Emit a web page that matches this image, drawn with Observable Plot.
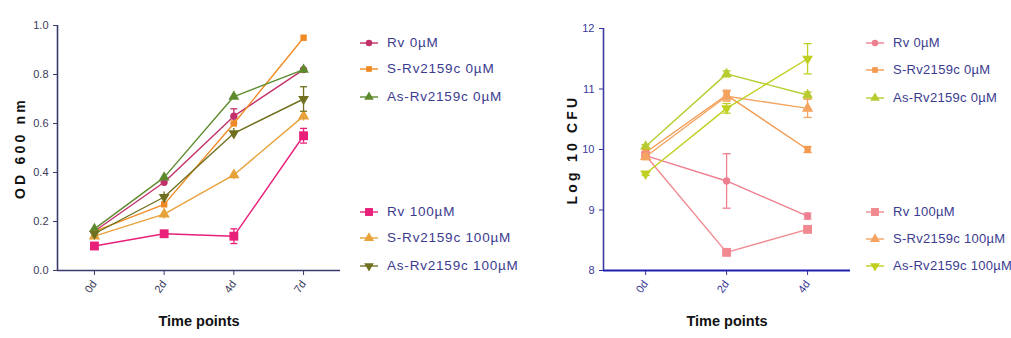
<!DOCTYPE html>
<html><head><meta charset="utf-8">
<script src="https://cdn.jsdelivr.net/npm/d3@7"></script>
<script src="https://cdn.jsdelivr.net/npm/@observablehq/plot@0.6"></script>
<style>
body{margin:0;background:#fff;font-family:"Liberation Sans",Arial,sans-serif;}
#wrap{position:relative;width:1011px;height:338px;overflow:hidden;background:#fff}
.panel{position:absolute;top:0}
.leg{position:absolute;font-size:13.5px;letter-spacing:0.8px;color:#3b3b8f;white-space:nowrap;line-height:1}
.leg.r{font-size:13px;letter-spacing:0.3px}
.leg svg{position:absolute;left:0;top:-7px}
.leg span{position:absolute;top:-7px}
</style></head><body><div id="wrap"></div>
<script>
// ---------- Data: left panel (OD 600 nm) ----------
const days1 = ["0d","2d","4d","7d"];
const names = ["Rv 0µM","S-Rv2159c 0µM","As-Rv2159c 0µM","Rv 100µM","S-Rv2159c 100µM","As-Rv2159c 100µM"];
const odRv0    = [0.16, 0.36, 0.63, 0.82];
const odS0     = [0.16, 0.27, 0.60, 0.95];
const odAs0    = [0.17, 0.38, 0.71, 0.82];
const odRv100  = [0.10, 0.15, 0.14, 0.55];
const odS100   = [0.14, 0.23, 0.39, 0.63];
const odAs100  = [0.15, 0.30, 0.56, 0.70];
const odErrRv0   = [0.01, 0.01, 0.03, 0.01];
const odErrS0    = [0.01, 0.01, 0.01, 0.01];
const odErrAs0   = [0.01, 0.01, 0.01, 0.01];
const odErrRv100 = [0.01, 0.01, 0.03, 0.03];
const odErrS100  = [0.01, 0.02, 0.02, 0.02];
const odErrAs100 = [0.01, 0.02, 0.02, 0.05];
const colors1 = ["#c2306a","#f08a24","#5e8a2e","#e8207a","#e8a23a","#707020"];

// ---------- Data: right panel (Log 10 CFU) ----------
const days2 = ["0d","2d","4d"];
const cfuRv0   = [9.90, 9.48, 8.90];
const cfuS0    = [9.95, 10.90, 10.00];
const cfuAs0   = [10.05, 11.25, 10.90];
const cfuRv100 = [9.90, 8.30, 8.68];
const cfuS100  = [9.88, 10.88, 10.68];
const cfuAs100 = [9.60, 10.68, 11.50];
const cfuErrRv0   = [0.05, 0.45, 0.05];
const cfuErrS0    = [0.05, 0.08, 0.05];
const cfuErrAs0   = [0.03, 0.05, 0.05];
const cfuErrRv100 = [0.05, 0.05, 0.05];
const cfuErrS100  = [0.05, 0.08, 0.15];
const cfuErrAs100 = [0.03, 0.08, 0.25];
const colors2 = ["#ee7f90","#f39a50","#b8cc30","#f08a90","#f4a460","#c0d020"];

// symbols
const triDown = {draw(ctx, size){const y=-Math.sqrt(size/(Math.sqrt(3)*3));ctx.moveTo(0,-2*y);ctx.lineTo(-Math.sqrt(3)*y,y);ctx.lineTo(Math.sqrt(3)*y,y);ctx.closePath();}};
const symbols = ["circle","square","triangle","square","triangle",triDown];
const sizes = [3.6,3.6,4,5,4.2,4];

function build(vals, errs){
  const rows=[];
  vals.forEach((arr,s)=>arr.forEach((v,i)=>rows.push({s, i, v, e:errs[s][i]})));
  return rows;
}
const rows1 = build([odRv0,odS0,odAs0,odRv100,odS100,odAs100],[odErrRv0,odErrS0,odErrAs0,odErrRv100,odErrS100,odErrAs100]);
const rows2 = build([cfuRv0,cfuS0,cfuAs0,cfuRv100,cfuS100,cfuAs100],[cfuErrRv0,cfuErrS0,cfuErrAs0,cfuErrRv100,cfuErrS100,cfuErrAs100]);

function seriesMarks(rows, colors, capW){
  const m=[];
  for(let s=0;s<6;s++){
    const d=rows.filter(r=>r.s===s);
    const big=d.filter(r=>r.e>0.02);
    m.push(Plot.line(d,{x:"i",y:"v",stroke:colors[s],strokeWidth:1.4}));
    m.push(Plot.ruleX(d,{x:"i",y1:r=>r.v-r.e,y2:r=>r.v+r.e,stroke:colors[s],strokeWidth:1.3}));
    m.push(Plot.link(big,{x1:r=>r.i-capW,x2:r=>r.i+capW,y1:r=>r.v-r.e,y2:r=>r.v-r.e,stroke:colors[s],strokeWidth:1.3}));
    m.push(Plot.link(big,{x1:r=>r.i-capW,x2:r=>r.i+capW,y1:r=>r.v+r.e,y2:r=>r.v+r.e,stroke:colors[s],strokeWidth:1.3}));
    m.push(Plot.dot(d,{x:"i",y:"v",fill:colors[s],stroke:"none",symbol:symbols[s],r:sizes[s]}));
  }
  return m;
}

const wrap=document.getElementById("wrap");

// left panel
const xd1=[-0.53,3.53];
const p1=Plot.plot({
  width:350,height:338,marginLeft:57,marginRight:10,marginTop:25,marginBottom:68,
  style:{fontFamily:"Liberation Sans, Arial, sans-serif",fontSize:"11px",color:"#3a3a5a",background:"transparent"},
  x:{type:"linear",domain:xd1},
  y:{domain:[0,1]},
  marks:[
    Plot.axisY({ticks:[0,0.2,0.4,0.6,0.8,1.0],tickFormat:d3.format(".1f"),tickSize:4,stroke:"#3a3a6e",
      label:"OD 600 nm",labelAnchor:"center",labelOffset:42,labelArrow:"none"}),
    Plot.axisX({ticks:[0,1,2,3],tickFormat:i=>days1[i],tickSize:5,tickRotate:-55,stroke:"#3a3a6e",
      label:"Time points",labelAnchor:"center",labelOffset:55,labelArrow:"none"}),
    Plot.ruleY([0],{stroke:"#3a3a6e",strokeWidth:1.6}),
    Plot.ruleX([xd1[0]],{y1:0,y2:1,stroke:"#3a3a6e",strokeWidth:1.6}),
    ...seriesMarks(rows1,colors1,0.05)
  ]
});
p1.classList.add("panel");p1.style.left="0px";
wrap.appendChild(p1);

// right panel
const xd2=[-0.52,2.53];
const p2=Plot.plot({
  width:330,height:338,marginLeft:73,marginRight:10,marginTop:28,marginBottom:68,
  style:{fontFamily:"Liberation Sans, Arial, sans-serif",fontSize:"11px",color:"#3a3a9a",background:"transparent"},
  x:{type:"linear",domain:xd2},
  y:{domain:[8,12]},
  marks:[
    Plot.axisY({ticks:[8,9,10,11,12],tickFormat:d3.format("d"),tickSize:4,stroke:"#3030a0",
      label:"Log 10 CFU",labelAnchor:"center",labelOffset:36,labelArrow:"none"}),
    Plot.axisX({ticks:[0,1,2],tickFormat:i=>days2[i],tickSize:5,tickRotate:-55,stroke:"#3030a0",
      label:"Time points",labelAnchor:"center",labelOffset:55,labelArrow:"none"}),
    Plot.ruleY([8],{stroke:"#2020b0",strokeWidth:2}),
    Plot.ruleX([xd2[0]],{y1:8,y2:12,stroke:"#3a3aa0",strokeWidth:1.6}),
    ...seriesMarks(rows2,colors2,0.05)
  ]
});
p2.classList.add("panel");p2.style.left="530px";
wrap.appendChild(p2);

// axis title styling (titles only, not tick labels)
for(const p of [p1,p2]){
  p.querySelectorAll("[aria-label='x-axis label']").forEach(g=>{
    g.style.fontWeight="bold";g.style.fontSize="14.5px";g.style.fill="#111";
  });
  p.querySelectorAll("[aria-label='y-axis label']").forEach(g=>{
    g.style.fontWeight="bold";g.style.fontSize="14px";g.style.letterSpacing="3.2px";g.style.fill="#111";
  });
}

// legends
function legend(x, ys, colors, cls){
  names.forEach((n,s)=>{
    const div=document.createElement("div");div.className="leg "+cls;
    div.style.left=(x-10)+"px";div.style.top=ys[s]+"px";
    const sym=d3.symbol().type(typeof symbols[s]==="string"?{circle:d3.symbolCircle,square:d3.symbolSquare,triangle:d3.symbolTriangle}[symbols[s]]:symbols[s]).size(Math.PI*sizes[s]*sizes[s]*0.8)();
    div.innerHTML=`<svg width="22" height="14"><line x1="1" x2="19" y1="7" y2="7" stroke="${colors[s]}" stroke-width="1.4"/><path d="${sym}" transform="translate(10,7)" fill="${colors[s]}"/></svg><span style="left:28px">${n}</span>`;
    wrap.appendChild(div);
  });
}
legend(369,[43,69,97,212,238,266],colors1,"l");
legend(875,[43,70,98,212,239,266],colors2,"r");
</script></body></html>
